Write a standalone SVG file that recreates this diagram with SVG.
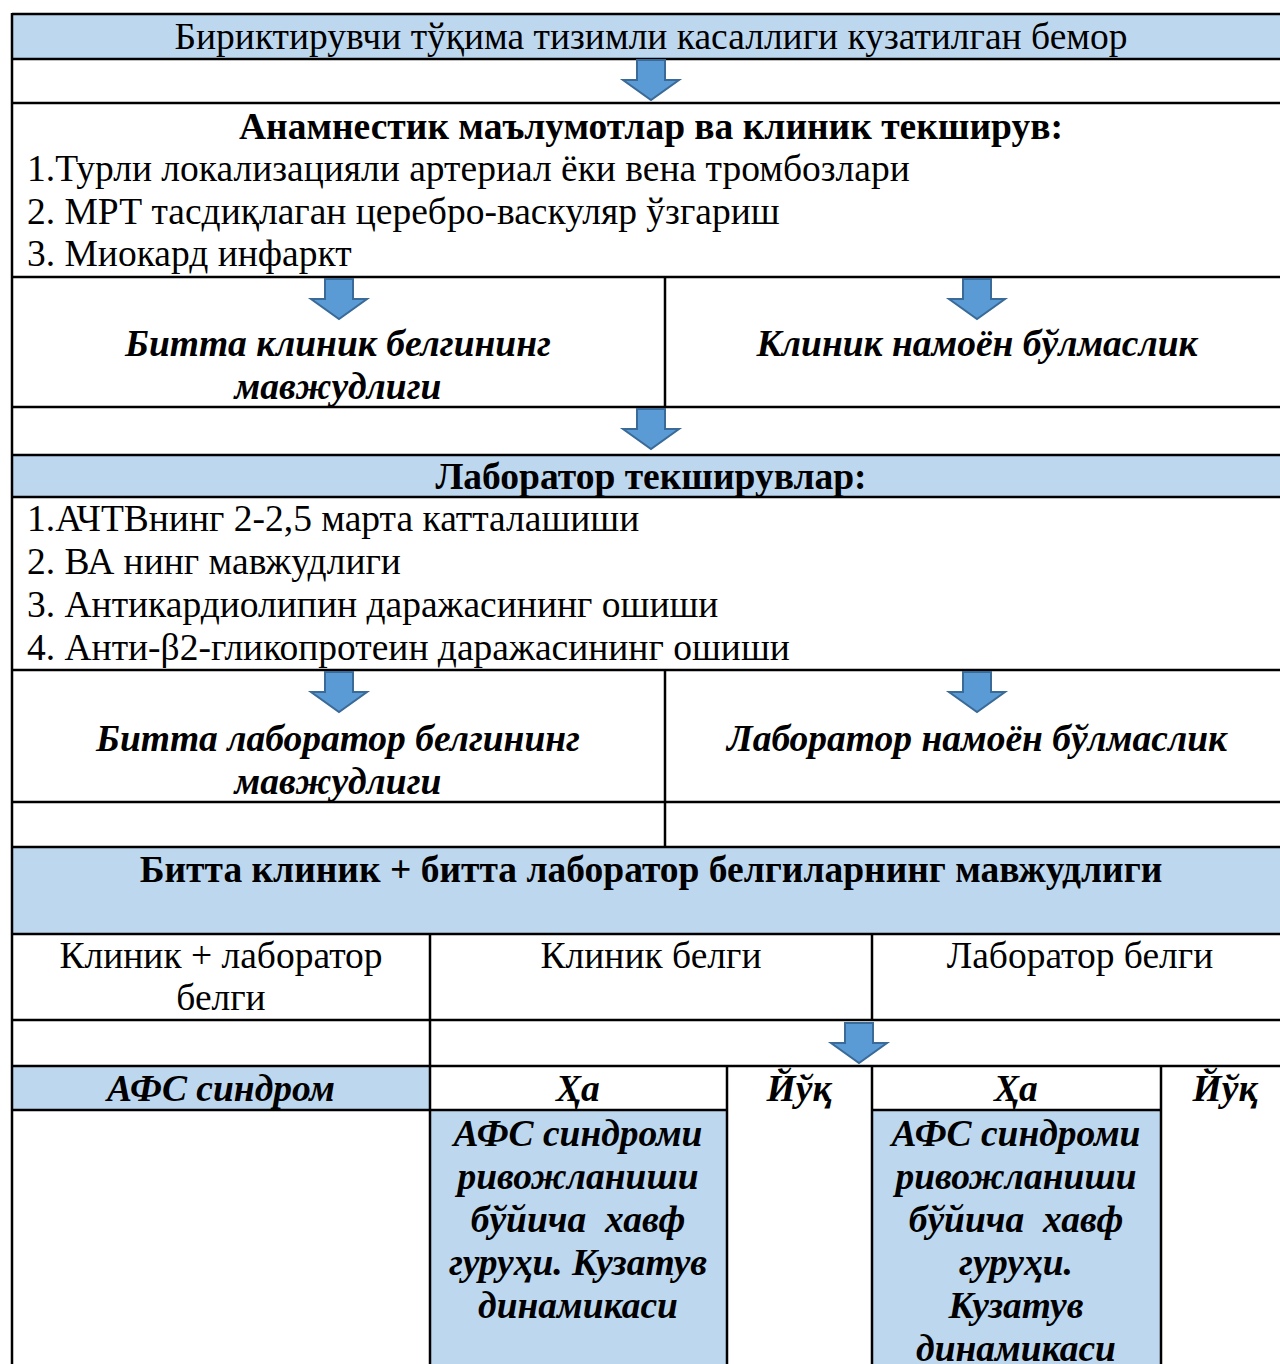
<svg xmlns="http://www.w3.org/2000/svg" width="1280" height="1364" viewBox="0 0 1280 1364">
<defs>
<style>
.t{font-family:"Liberation Serif","Times New Roman",serif;font-size:37.5px;fill:#000}
.b{font-weight:bold}
.i{font-style:italic}
.m{text-anchor:middle}
.blue{fill:#BDD7EE}
.ln{stroke:#000;stroke-width:2.5;fill:none}
.arr{fill:#5B9BD5;stroke:#3A6A98;stroke-width:2;stroke-linejoin:miter}
</style>
<path id="ar" d="M-14,0 H14 V20 H28 L0,40 L-28,20 H-14 Z"/>
</defs>
<rect width="1280" height="1364" fill="#fff"/>
<rect class="blue" x="12" y="14" width="1270" height="45"/>
<rect class="blue" x="12" y="455" width="1270" height="42"/>
<rect class="blue" x="12" y="847" width="1270" height="87"/>
<rect class="blue" x="12" y="1066" width="418" height="44"/>
<rect class="blue" x="430" y="1110" width="297" height="256"/>
<rect class="blue" x="872" y="1110" width="289" height="256"/>
<g class="ln">
<line x1="12" y1="14" x2="1282" y2="14"/>
<line x1="12" y1="59" x2="1282" y2="59"/>
<line x1="12" y1="103" x2="1282" y2="103"/>
<line x1="12" y1="277" x2="1282" y2="277"/>
<line x1="12" y1="407" x2="1282" y2="407"/>
<line x1="12" y1="455" x2="1282" y2="455"/>
<line x1="12" y1="497" x2="1282" y2="497"/>
<line x1="12" y1="670" x2="1282" y2="670"/>
<line x1="12" y1="802" x2="1282" y2="802"/>
<line x1="12" y1="847" x2="1282" y2="847"/>
<line x1="12" y1="934" x2="1282" y2="934"/>
<line x1="12" y1="1020" x2="1282" y2="1020"/>
<line x1="12" y1="1066" x2="1282" y2="1066"/>
<line x1="12" y1="1110" x2="727" y2="1110"/>
<line x1="872" y1="1110" x2="1161" y2="1110"/>
<line x1="12" y1="13" x2="12" y2="1364"/>
<line x1="665" y1="277" x2="665" y2="407"/>
<line x1="665" y1="670" x2="665" y2="847"/>
<line x1="430" y1="934" x2="430" y2="1364"/>
<line x1="872" y1="934" x2="872" y2="1020"/>
<line x1="872" y1="1066" x2="872" y2="1364"/>
<line x1="727" y1="1066" x2="727" y2="1364"/>
<line x1="1161" y1="1066" x2="1161" y2="1364"/>
</g>
<g id="connectors">
<use href="#ar" class="arr" x="651" y="60"/>
<use href="#ar" class="arr" x="339" y="279"/>
<use href="#ar" class="arr" x="977" y="279"/>
<use href="#ar" class="arr" x="651" y="409"/>
<use href="#ar" class="arr" x="339" y="672"/>
<use href="#ar" class="arr" x="977" y="672"/>
<use href="#ar" class="arr" x="859" y="1023"/>
</g>
<g id="n-title"><text class="t m" x="651" y="49">Бириктирувчи тўқима тизимли касаллиги кузатилган бемор</text></g>
<g id="n-anam">
<text class="t b m" x="651" y="139">Анамнестик маълумотлар ва клиник текширув:</text>
<text class="t" x="27" y="181">1.Турли локализацияли артериал ёки вена тромбозлари</text>
<text class="t" x="27" y="224">2. МРТ тасдиқлаган церебро-васкуляр ўзгариш</text>
<text class="t" x="27" y="266">3. Миокард инфаркт</text>
</g>
<g id="n-clin-yes">
<text class="t b i m" x="338" y="356">Битта клиник белгининг</text>
<text class="t b i m" x="338" y="399">мавжудлиги</text>
</g>
<g id="n-clin-no"><text class="t b i m" x="977" y="356">Клиник намоён бўлмаслик</text></g>
<g id="n-lab">
<text class="t b m" x="651" y="489">Лаборатор текширувлар:</text>
<text class="t" x="27" y="531">1.АЧТВнинг 2-2,5 марта катталашиши</text>
<text class="t" x="27" y="574">2. ВА нинг мавжудлиги</text>
<text class="t" x="27" y="617">3. Антикардиолипин даражасининг ошиши</text>
<text class="t" x="27" y="660">4. Анти-β2-гликопротеин даражасининг ошиши</text>
</g>
<g id="n-lab-yes">
<text class="t b i m" x="338" y="751">Битта лаборатор белгининг</text>
<text class="t b i m" x="338" y="794">мавжудлиги</text>
</g>
<g id="n-lab-no"><text class="t b i m" x="977" y="751">Лаборатор намоён бўлмаслик</text></g>
<g id="n-both"><text class="t b m" x="651" y="882">Битта клиник + битта лаборатор белгиларнинг мавжудлиги</text></g>
<g id="n-c1">
<text class="t m" x="221" y="968">Клиник + лаборатор</text>
<text class="t m" x="221" y="1010">белги</text>
</g>
<g id="n-c2"><text class="t m" x="651" y="968">Клиник белги</text></g>
<g id="n-c3"><text class="t m" x="1080" y="968">Лаборатор белги</text></g>
<g id="n-afs"><text class="t b i m" x="221" y="1101">АФС синдром</text></g>
<g id="n-ha1"><text class="t b i m" x="578" y="1101">Ҳа</text></g>
<g id="n-yoq1"><text class="t b i m" x="799" y="1101">Йўқ</text></g>
<g id="n-ha2"><text class="t b i m" x="1016" y="1101">Ҳа</text></g>
<g id="n-yoq2"><text class="t b i m" x="1225" y="1101">Йўқ</text></g>
<g id="n-risk1">
<text class="t b i m" x="578" y="1146">АФС синдроми</text>
<text class="t b i m" x="578" y="1189">ривожланиши</text>
<text class="t b i m" x="578" y="1232" xml:space="preserve">бўйича  хавф</text>
<text class="t b i m" x="578" y="1275">гуруҳи. Кузатув</text>
<text class="t b i m" x="578" y="1318">динамикаси</text>
</g>
<g id="n-risk2">
<text class="t b i m" x="1016" y="1146">АФС синдроми</text>
<text class="t b i m" x="1016" y="1189">ривожланиши</text>
<text class="t b i m" x="1016" y="1232" xml:space="preserve">бўйича  хавф</text>
<text class="t b i m" x="1016" y="1275">гуруҳи.</text>
<text class="t b i m" x="1016" y="1318">Кузатув</text>
<text class="t b i m" x="1016" y="1361">динамикаси</text>
</g>
</svg>
